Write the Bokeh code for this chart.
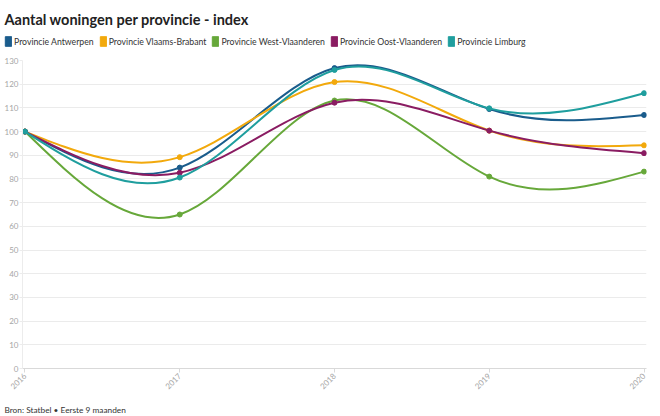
import numpy as np
from bokeh.plotting import figure
from bokeh.layouts import column
from bokeh.models import Range1d, FixedTicker, Legend, LegendItem, Label
from bokeh.embed import file_html
from bokeh.resources import INLINE

# ---- data ----
years = [2016, 2017, 2018, 2019, 2020]
year_labels = ["2016", "2017", "2018", "2019", "2020"]
antwerpen = [100, 84.8, 126.8, 109.5, 107.0]
vlaams_brabant = [100, 89.2, 120.9, 100.4, 94.2]
west_vlaanderen = [100, 65.0, 113.1, 81.0, 83.1]
oost_vlaanderen = [100, 82.6, 112.2, 100.4, 90.9]
limburg = [100, 80.6, 126.0, 109.8, 116.2]
series_names = ["Provincie Antwerpen", "Provincie Vlaams-Brabant", "Provincie West-Vlaanderen",
                "Provincie Oost-Vlaanderen", "Provincie Limburg"]
series_values = [antwerpen, vlaams_brabant, west_vlaanderen, oost_vlaanderen, limburg]
colors = ["#1a5c8c", "#f2a90c", "#67a83a", "#8a1c62", "#1f9e9e"]
y_ticks = list(range(0, 131, 10))
title_text = "Aantal woningen per provincie - index"
source_text = "Bron: Statbel \u2022 Eerste 9 maanden"

FONT = "Lato"
W = 660
HEAD_H, CHART_H, FOOT_H = 52, 343, 21


def natural_bezier(xs, ys):
    """Natural cubic spline through the points, as cubic Bezier segments."""
    xs = np.asarray(xs, float)
    ys = np.asarray(ys, float)
    n = len(xs)
    h = np.diff(xs)
    A = np.zeros((n, n))
    b = np.zeros(n)
    A[0, 0] = 1
    A[-1, -1] = 1
    for i in range(1, n - 1):
        A[i, i - 1] = h[i - 1]
        A[i, i] = 2 * (h[i - 1] + h[i])
        A[i, i + 1] = h[i]
        b[i] = 6 * ((ys[i + 1] - ys[i]) / h[i] - (ys[i] - ys[i - 1]) / h[i - 1])
    M = np.linalg.solve(A, b)
    seg = dict(x0=[], y0=[], x1=[], y1=[], cx0=[], cy0=[], cx1=[], cy1=[])
    for i in range(n - 1):
        hi = h[i]
        slope = (ys[i + 1] - ys[i]) / hi
        d0 = slope - hi * (2 * M[i] + M[i + 1]) / 6
        d1 = slope + hi * (M[i] + 2 * M[i + 1]) / 6
        seg["x0"].append(xs[i]); seg["y0"].append(ys[i])
        seg["x1"].append(xs[i + 1]); seg["y1"].append(ys[i + 1])
        seg["cx0"].append(xs[i] + hi / 3); seg["cy0"].append(ys[i] + d0 * hi / 3)
        seg["cx1"].append(xs[i + 1] - hi / 3); seg["cy1"].append(ys[i + 1] - d1 * hi / 3)
    return seg


def blank(height):
    f = figure(width=W, height=height, output_backend="svg", toolbar_location=None,
               x_range=Range1d(0, W), y_range=Range1d(0, height),
               x_axis_type=None, y_axis_type=None,
               min_border_left=0, min_border_right=0, min_border_top=0, min_border_bottom=0)
    f.frame_align = False
    f.outline_line_color = None
    f.background_fill_color = "white"
    f.border_fill_color = "white"
    return f


# ---- header: title + legend ----
head = blank(HEAD_H)
head.add_layout(Label(x=4, y=HEAD_H - 19, x_units="screen", y_units="screen", text=title_text,
                      text_font=FONT, text_font_style="bold", text_font_size="14.5px",
                      text_color="#222222", text_baseline="alphabetic"))
legend_items = []
for name, col in zip(series_names, colors):
    sw = head.quad(left=[np.nan], right=[np.nan], top=[np.nan], bottom=[np.nan],
                   fill_color=col, line_color=col)
    legend_items.append(LegendItem(label=name, renderers=[sw]))
legend = Legend(items=legend_items, orientation="horizontal", location=(4, HEAD_H - 47),
                glyph_width=8, glyph_height=12, label_height=12, label_standoff=2, spacing=5,
                padding=0, margin=0, border_line_alpha=0, background_fill_alpha=0,
                label_text_font=FONT, label_text_font_size="8.7px", label_text_color="#333333")
head.add_layout(legend)

# ---- chart ----
p = figure(width=W, height=CHART_H, output_backend="svg", toolbar_location=None,
           x_range=Range1d(years[0] - 0.016, years[-1] + 0.016),
           y_range=Range1d(0, 130),
           min_border_left=22, min_border_right=14, min_border_top=8, min_border_bottom=27)
p.frame_align = False
p.outline_line_color = None
p.background_fill_color = "white"
p.border_fill_color = "white"

p.xgrid.grid_line_color = None
p.ygrid.ticker = FixedTicker(ticks=y_ticks)
p.ygrid.grid_line_color = "#ebebeb"
p.ygrid.grid_line_width = 1

p.xaxis.ticker = FixedTicker(ticks=years)
p.xaxis.major_label_overrides = {y: l for y, l in zip(years, year_labels)}
p.xaxis.major_label_orientation = np.pi / 4
p.xaxis.axis_line_color = "#d9d9d9"
p.xaxis.major_tick_line_color = "#d9d9d9"
p.xaxis.major_tick_out = 4
p.xaxis.major_tick_in = 0
p.xaxis.minor_tick_line_color = None
p.xaxis.major_label_text_color = "#a6a6a6"
p.xaxis.major_label_text_font = FONT
p.xaxis.major_label_text_font_size = "8px"
p.xaxis.major_label_standoff = 2

p.yaxis.ticker = FixedTicker(ticks=y_ticks)
p.yaxis.axis_line_color = "#ececec"
p.yaxis.major_tick_line_color = "#ececec"
p.yaxis.major_tick_out = 3
p.yaxis.major_tick_in = 0
p.yaxis.minor_tick_line_color = None
p.yaxis.major_label_text_color = "#a6a6a6"
p.yaxis.major_label_text_font = FONT
p.yaxis.major_label_text_font_size = "8px"
p.yaxis.major_label_standoff = 1

for vals, col in zip(series_values, colors):
    seg = natural_bezier(years, vals)
    p.bezier(x0="x0", y0="y0", x1="x1", y1="y1", cx0="cx0", cy0="cy0", cx1="cx1", cy1="cy1",
             source=seg, line_color=col, line_width=2)
    p.scatter(x=years, y=vals, size=5, fill_color=col, line_color=col)

# ---- footer: source ----
foot = blank(FOOT_H)
foot.add_layout(Label(x=4, y=7, x_units="screen", y_units="screen", text=source_text,
                      text_font=FONT, text_font_size="8.3px", text_color="#333333",
                      text_baseline="alphabetic"))

layout = column(head, p, foot, spacing=0)
open("out.html", "w").write(file_html(layout, INLINE))
